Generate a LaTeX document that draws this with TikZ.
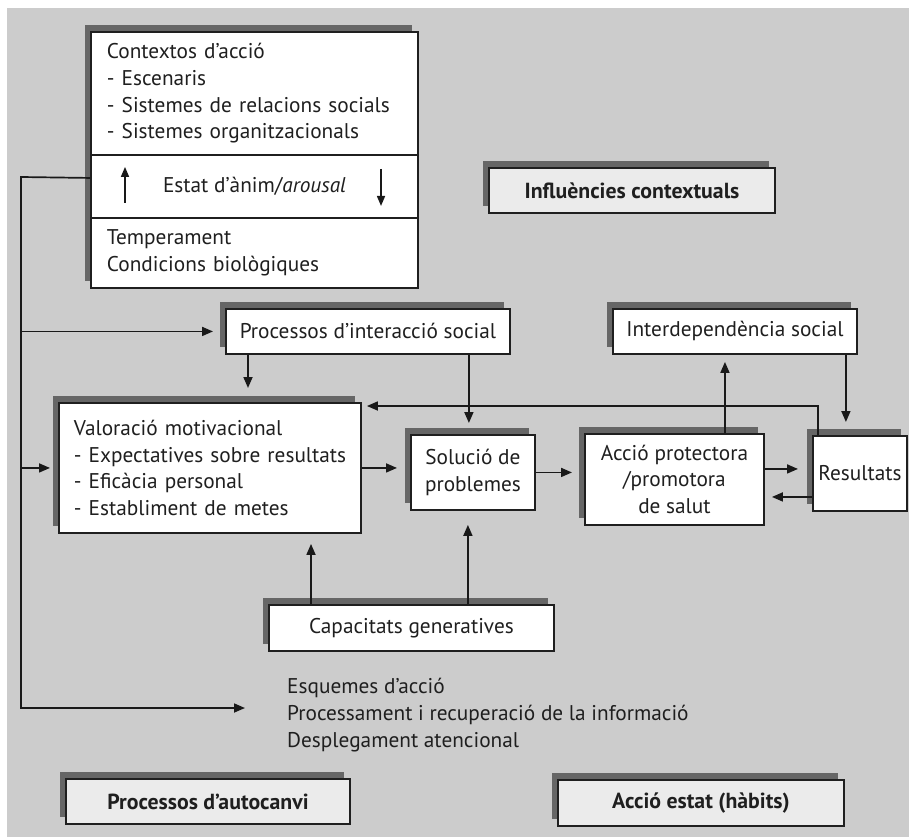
\documentclass[tikz,border=0pt]{standalone}
\usepackage{fontspec}
\setmainfont{PT Sans}
\usetikzlibrary{arrows.meta,shadows,calc}
\newcommand\fs{\fontsize{21.3}{26.7}\selectfont}
\newcommand\fsb{\fontsize{21.8}{26.7}\selectfont\bfseries}

\begin{document}
\begin{tikzpicture}[x=1pt,y=-1pt,
  box/.style={draw=black!88, line width=1.9pt, fill=white, inner sep=0pt,
    anchor=north west, font=\fs, text=black!88},
  shad/.style={general shadow={fill=black!60, shadow xshift=-6pt, shadow yshift=7pt}},
  tag/.style={box, shad, fill=black!8, font=\fsb},
  conn/.style={line width=1.7pt, draw=black!90, -{Triangle[length=11pt,width=9pt]}},
  tick/.style={line width=1.6pt, draw=black!90, -{Triangle[length=10pt,width=8pt]}},
]
\useasboundingbox (0,0) rectangle (909,837);
\fill[black!20] (7,8) rectangle (909,837);

% contexts block: frame and three sections
\node[box,shad,minimum width=327pt,minimum height=256pt] (frame) at (90,31) {};
\node[box,minimum width=327pt,minimum height=123pt,text width=295pt,align=left] (ctx) at (90,31)
  {Contextos d’acció\\- Escenaris\\- Sistemes de relacions socials\\- Sistemes organitzacionals};
\node[box,minimum width=327pt,minimum height=63pt] (ar) at (90,154) {Estat d’ànim/\textit{arousal}};
\node[box,minimum width=327pt,minimum height=70pt,text width=295pt,align=left] (tmp) at (90,217)
  {Temperament\\Condicions biològiques};
\draw[tick] ([shift={(35,16.5)}]ar.west) -- ++(0,-36);
\draw[tick] ([shift={(291,-17.5)}]ar.west) -- ++(0,37);

% process boxes
\node[box,shad,minimum width=284pt,minimum height=45pt] (psoc) at (225,308) {Processos d’interacció social};
\node[box,shad,minimum width=244pt,minimum height=45pt] (idep) at (612,308) {Interdependència social};
\node[box,shad,minimum width=302pt,minimum height=130pt,text width=272pt,align=left] (val) at (58,402)
  {Valoració motivacional\\\mbox{- Expectatives sobre resultats}\\- Eficàcia personal\\- Establiment de metes};
\node[box,shad,minimum width=124pt,minimum height=75pt,align=center] (sol) at (410,434) {Solució de\\problemes};
\node[box,shad,minimum width=179pt,minimum height=91pt,align=center] (acc) at (584,433)
  {Acció protectora\\/promotora\\de salut};
\node[box,shad,minimum width=94pt,minimum height=75pt] (res) at (812,435) {Resultats};
\node[box,shad,minimum width=285pt,minimum height=46pt] (cap) at (268,604) {Capacitats generatives};
\node[anchor=west,inner sep=0pt,font=\fs,text=black!88,align=left] (esq) at (287,715)
  {Esquemes d’acció\\Processament i recuperació de la informació\\Desplegament atencional};

% category labels
\node[tag,minimum width=286pt,minimum height=45pt] (infl) at (488,167) {Influències contextuals};
\node[tag,minimum width=284pt,minimum height=45pt] (auto) at (65,778) {Processos d’autocanvi};
\node[tag,minimum width=286pt,minimum height=46pt] (hab) at (557,779) {Acció estat (hàbits)};

% trunk from the contexts block
\coordinate (tk) at (21,177);
\coordinate (tkb) at (21,708);
\draw[conn,shorten >=42pt] ([yshift=8.5pt]ar.west) -- (tk) -- (tkb) -- (tkb -| esq.west);
\draw[conn,shorten >=12pt] (tk |- psoc.west) -- (psoc.west);
\draw[conn,shorten >=8pt] (tk |- val.west) -- (val.west);

% connectors between processes
\draw[conn,shorten >=14pt] ([xshift=23pt]psoc.south west) -- ([xshift=23pt]psoc.south west |- val.north);
\draw[conn,shorten >=11pt] ([xshift=-42pt]psoc.south east) -- ([xshift=-42pt]psoc.south east |- sol.north);
\draw[conn,shorten >=13pt] (val.east) -- (val.east -| sol.west);
\draw[conn,shorten >=12pt] (sol.east) -- (sol.east -| acc.west);
\draw[conn,shorten >=7pt] ([xshift=50.5pt]acc.north) -- ([xshift=50.5pt]acc.north |- idep.south);
\draw[conn,shorten >=13pt] ([xshift=-12pt]idep.south east) -- ([xshift=-12pt]idep.south east |- res.north);
\draw[conn,shorten >=14pt] ([yshift=10.5pt]acc.east) -- ([yshift=10.5pt]acc.east -| res.west);
\draw[conn,shorten >=7pt] ([yshift=-17.5pt]acc.east -| res.west) -- ([yshift=-17.5pt]acc.east);
\draw[conn,shorten >=5pt] ([xshift=6pt]res.north west) |- ([yshift=-4pt]val.north east);
\draw[conn,shorten >=10pt] ([xshift=43pt]cap.north west) -- ([xshift=43pt]cap.north west |- val.south);
\draw[conn,shorten >=14pt] ([xshift=-87pt]cap.north east) -- ([xshift=-87pt]cap.north east |- sol.south);
\end{tikzpicture}
\end{document}
